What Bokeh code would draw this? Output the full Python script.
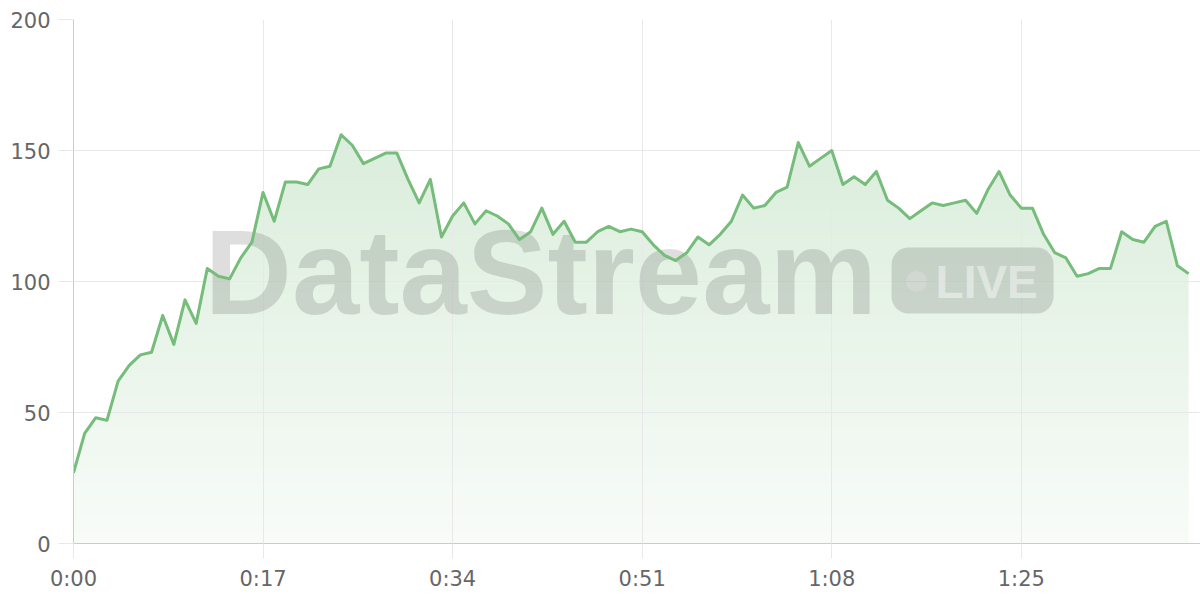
import numpy as np
from bokeh.plotting import figure
from bokeh.models import Range1d, FixedTicker, Label, BoxAnnotation
from bokeh.embed import file_html
from bokeh.resources import INLINE

# ---- data ----
seconds = list(range(0, 101))
values = [27, 42, 48, 47, 62, 68, 72, 73, 87, 76,
          93, 84, 105, 102, 101, 109, 115, 134, 123, 138,
          138, 137, 143, 144, 156, 152, 145, 147, 149, 149,
          139, 130, 139, 117, 125, 130, 122, 127, 125, 122,
          116, 119, 128, 118, 123, 115, 115, 119, 121, 119,
          120, 119, 114, 110, 108, 111, 117, 114, 118, 123,
          133, 128, 129, 134, 136, 153, 144, 147, 150, 137,
          140, 137, 142, 131, 128, 124, 127, 130, 129, 130,
          131, 126, 135, 142, 133, 128, 128, 118, 111, 109,
          102, 103, 105, 105, 119, 116, 115, 121, 123, 106,
          103]
x_ticks = [0, 17, 34, 51, 68, 85]
x_tick_labels = ["0:00", "0:17", "0:34", "0:51", "1:08", "1:25"]
y_ticks = [0, 50, 100, 150, 200]

LINE = (118, 188, 122)
TICK_FONT = "DejaVu Sans"

W, H = 1200, 598
p = figure(width=W, height=H, output_backend="svg", toolbar_location=None,
           x_range=Range1d(0, 101.07), y_range=Range1d(0, 200),
           min_border_left=73, min_border_right=0, min_border_top=19,
           min_border_bottom=55)
p.outline_line_color = None
p.background_fill_color = "white"
p.border_fill_color = "white"

# frame mapping helpers for decorative watermark (page px -> data)
X0, SX = 73.0, 11.15
Y0, SY = 543.0, 2.62
def dx(px):
    return (px - X0) / SX
def dy(py):
    return (Y0 - py) / SY

# ---- gradient area fill (bands) ----
vals = np.array(values, dtype=float)
xs = np.array(seconds, dtype=float)
top = vals.max()
n_bands = 70
levels = np.linspace(0, top, n_bands + 1)
for k in range(n_bands):
    lo = np.minimum(vals, levels[k])
    hi = np.minimum(vals, levels[k + 1] + 0.5)
    mid = 0.5 * (levels[k] + levels[k + 1])
    a = 0.05 + 0.22 * mid / top
    c = tuple(int(round(255 - a * (255 - ch))) for ch in LINE)
    p.varea(x=xs, y1=lo, y2=hi, fill_color="#%02x%02x%02x" % c,
            fill_alpha=1.0, level="image")

# ---- watermark ----
WM_FS = 121
wm = Label(x=dx(204), y=dy(313 - 0.345 * WM_FS), text="DataStream",
           text_font="Liberation Sans", text_font_size="%dpx" % WM_FS,
           text_font_style="bold", text_color="black", text_alpha=0.13,
           text_align="left", text_baseline="alphabetic", level="underlay")
p.add_layout(wm)
badge = BoxAnnotation(left=dx(891), right=dx(1053), top=dy(247), bottom=dy(313),
                      fill_color="black", fill_alpha=0.13, line_alpha=0,
                      border_radius=17, level="underlay")
p.add_layout(badge)
p.scatter(x=[dx(916)], y=[dy(281)], size=21, marker="circle",
          fill_color="white", fill_alpha=0.45, line_alpha=0, level="underlay")
LV_FS = 46
live = Label(x=dx(935), y=dy(297 - 0.345 * LV_FS), text="LIVE",
             text_font="Liberation Sans", text_font_size="%dpx" % LV_FS,
             text_font_style="bold", text_color="white", text_alpha=0.45,
             text_align="left", text_baseline="alphabetic", level="underlay")
p.add_layout(live)

# ---- line ----
p.line(xs, vals, line_color="#%02x%02x%02x" % LINE, line_width=3,
       line_join="round")

# ---- axes & grid ----
GRID = "#e8e8e8"
p.xaxis.ticker = FixedTicker(ticks=x_ticks)
p.xaxis.major_label_overrides = {t: l for t, l in zip(x_ticks, x_tick_labels)}
p.yaxis.ticker = FixedTicker(ticks=y_ticks)
for ax in (p.xaxis[0], p.yaxis[0]):
    ax.axis_line_color = "#cccccc"
    ax.axis_line_width = 1
    ax.major_tick_line_color = GRID
    ax.major_tick_out = 15
    ax.major_tick_in = 0
    ax.minor_tick_line_color = None
    ax.major_label_text_font = TICK_FONT
    ax.major_label_text_font_size = "21px"
    ax.major_label_text_color = "#666666"
    ax.major_label_standoff = 8
p.xgrid.ticker = FixedTicker(ticks=x_ticks)
p.ygrid.ticker = FixedTicker(ticks=y_ticks)
p.xgrid.grid_line_color = GRID
p.ygrid.grid_line_color = GRID

open("out.html", "w").write(file_html(p, INLINE))
